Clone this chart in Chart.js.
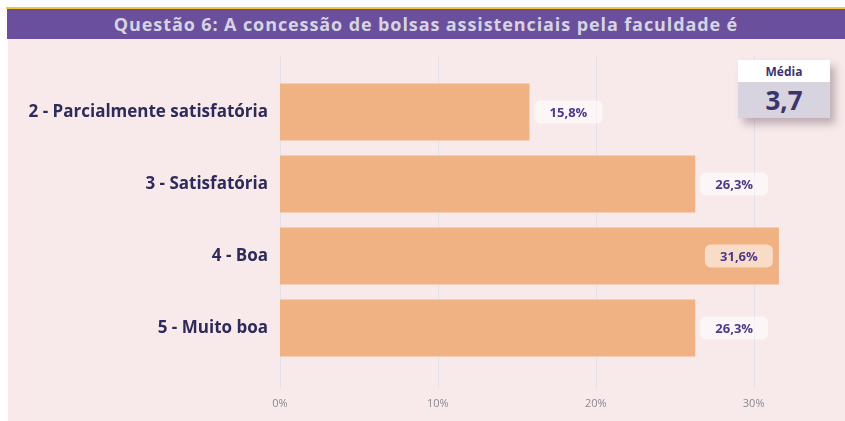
<!DOCTYPE html>
<html>
<head>
<meta charset="utf-8">
<script src="https://cdn.jsdelivr.net/npm/chart.js@4.4.0/dist/chart.umd.min.js"></script>
<style>
  body { margin: 0; background: #fff; width: 845px; height: 421px; overflow: hidden; position: relative; font-family: "Open Sans", sans-serif; }
  #topline { position: absolute; left: 6px; top: 7px; width: 839px; height: 2px; background: #f0c93a; }
  #title { position: absolute; left: 7px; top: 9px; width: 838px; height: 30px; background: #6a509c;
           color: #d6d3e2; font-weight: 700; font-size: 18px; letter-spacing: 0.9px; line-height: 30px; text-align: center; }
  #panel { position: absolute; left: 8px; top: 39px; width: 837px; height: 382px; background: #f8eaea; }
  #card { position: absolute; left: 738px; top: 60px; width: 92px; height: 58px; box-shadow: 5px 6px 8px rgba(80,60,80,0.35); }
  #card .h { height: 22px; background: #fff; color: #3d3470; font-weight: 700; font-size: 12px; line-height: 23px; text-align: center; }
  #card .v { height: 36px; background: #d7d4e0; color: #3b356b; font-weight: 700; font-size: 26px; line-height: 36px; text-align: center; }
</style>
</head>
<body>
<div id="topline"></div>
<div id="title">Questão 6: A concessão de bolsas assistenciais pela faculdade é</div>
<div id="panel"><canvas id="chart" width="837" height="382"></canvas></div>
<div id="card"><div class="h">Média</div><div class="v">3,7</div></div>
<script>
const categories = ["2 - Parcialmente satisfatória", "3 - Satisfatória", "4 - Boa", "5 - Muito boa"];
const percents = [15.8, 26.3, 31.6, 26.3];
const tickValues = [0, 10, 20, 30];

const gridPlugin = {
  id: "grid",
  beforeDatasetsDraw(chart) {
    const ctx = chart.ctx;
    const x = chart.scales.x;
    ctx.save();
    ctx.strokeStyle = "#e2e0e8";
    ctx.lineWidth = 1;
    tickValues.forEach(v => {
      const px = Math.round(x.getPixelForValue(v)) + 0.5;
      ctx.beginPath();
      ctx.moveTo(px, 16);
      ctx.lineTo(px, 349);
      ctx.stroke();
    });
    ctx.restore();
  }
};

const labelPlugin = {
  id: "labels",
  afterDatasetsDraw(chart) {
    const ctx = chart.ctx;
    const area = chart.chartArea;
    const meta = chart.getDatasetMeta(0);
    ctx.save();
    ctx.font = "bold 13px 'Open Sans'";
    meta.data.forEach((bar, i) => {
      const text = percents[i].toFixed(1).replace(".", ",") + "%";
      const w = 68, h = 23;
      let left = bar.x + 5;
      if (left + w > area.right) left = bar.x - 6 - w;
      const top = bar.y - h / 2;
      ctx.fillStyle = "rgba(255,255,255,0.55)";
      ctx.beginPath();
      ctx.roundRect(left, top, w, h, 6);
      ctx.fill();
      ctx.fillStyle = "#4b3a8a";
      ctx.textAlign = "center";
      ctx.textBaseline = "middle";
      ctx.fillText(text, left + w / 2, bar.y + 1);
    });
    ctx.restore();
  }
};

new Chart(document.getElementById("chart"), {
  type: "bar",
  data: {
    labels: categories,
    datasets: [{
      data: percents,
      backgroundColor: "#f0b183",
      barPercentage: 0.79,
      categoryPercentage: 1
    }]
  },
  options: {
    indexAxis: "y",
    responsive: false,
    animation: false,
    layout: { padding: { top: 37, bottom: 11, right: 44, left: 0 } },
    plugins: { legend: { display: false }, tooltip: { enabled: false } },
    scales: {
      x: {
        min: 0,
        max: 33,
        grid: { display: false },
        border: { display: false },
        afterBuildTicks: s => { s.ticks = tickValues.map(v => ({ value: v })); },
        afterFit: s => { s.height = 46; },
        ticks: {
          padding: 25,
          color: "#8a8790",
          font: { family: "Open Sans", size: 11 },
          callback: v => v + "%"
        }
      },
      y: {
        grid: { display: false },
        border: { display: false },
        afterFit: s => { s.width = 272; },
        ticks: {
          padding: 4,
          color: "#2e2a5a",
          font: { family: "Open Sans", size: 17, weight: "bold" }
        }
      }
    }
  },
  plugins: [gridPlugin, labelPlugin]
});
</script>
</body>
</html>
